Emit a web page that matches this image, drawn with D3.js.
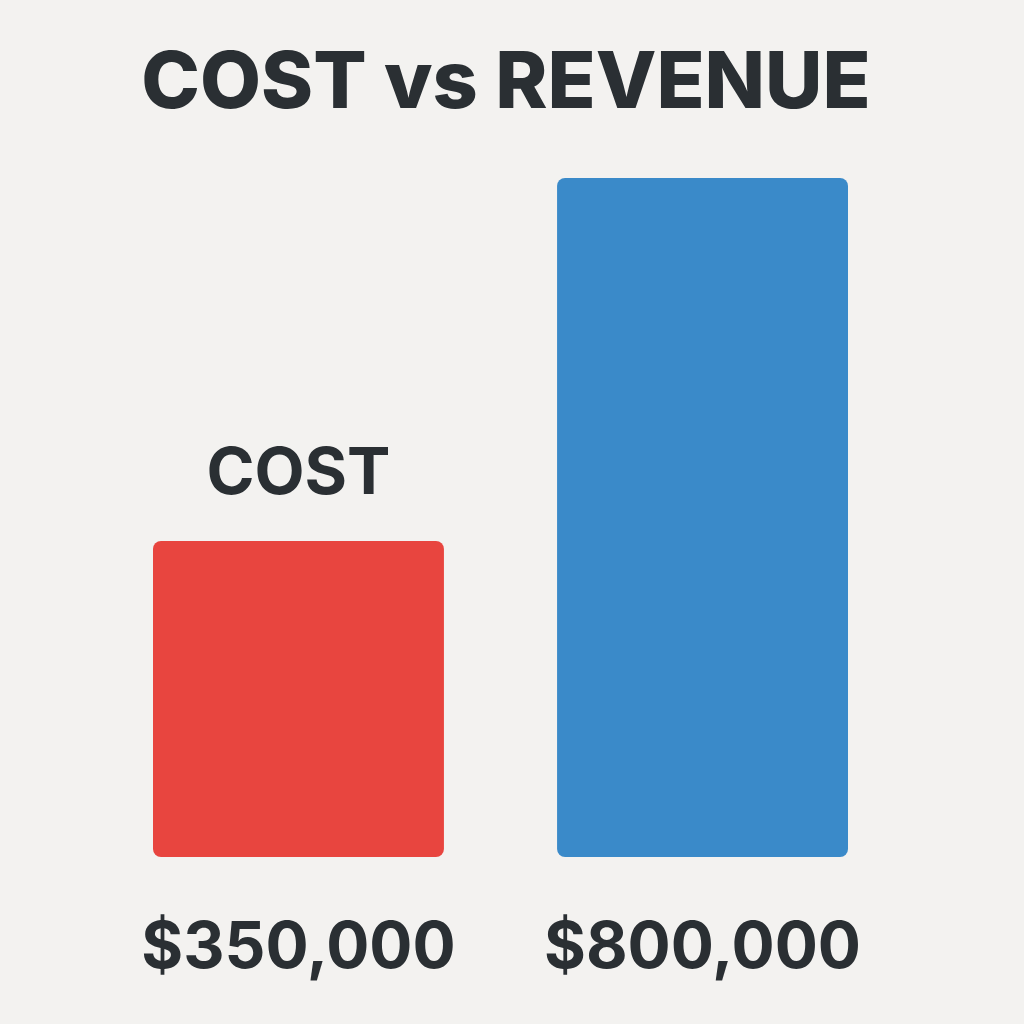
<!DOCTYPE html>
<html>
<head>
<meta charset="utf-8">
<script src="https://cdn.jsdelivr.net/npm/d3@7"></script>
<style>
	body { margin: 0; background: #f3f2f0; }
	svg { display: block; }
	text { font-family: Inter, "Open Sans", sans-serif; fill: #2a2f33; }
</style>
</head>
<body>
<div id="chart"></div>
<script>
// Data
var categories = ['COST', 'REVENUE']
var values = [350000, 800000]
var valueLabels = ['$350,000', '$800,000']
var barLabels = ['COST', '']
var colors = ['#e8453f', '#3a8ac9']

var width = 1024, height = 1024

var svg = d3.select('#chart').append('svg')
	.attr('width', width)
	.attr('height', height)

svg.append('rect')
	.attr('width', width).attr('height', height)
	.attr('fill', '#f3f2f0')

// Title
svg.append('text')
	.attr('x', 506)
	.attr('y', 108)
	.attr('text-anchor', 'middle')
	.style('font-size', '79px')
	.style('font-weight', 800)
	.text('COST vs REVENUE')

// Scales
var x = d3.scaleBand()
	.domain(categories)
	.range([153, 848])
	.paddingInner(0.28)
	.paddingOuter(0)

var y = d3.scaleLinear()
	.domain([-42000, 800000])
	.range([857, 178])

var data = categories.map(function(c, i){
	return {cat: c, value: values[i], label: valueLabels[i], top: barLabels[i], color: colors[i]}
})

// Bars
svg.selectAll('.bar')
	.data(data)
	.enter().append('rect')
	.attr('class', 'bar')
	.attr('x', function(d){ return x(d.cat) })
	.attr('y', function(d){ return y(d.value) })
	.attr('width', x.bandwidth())
	.attr('height', function(d){ return y.range()[0] - y(d.value) })
	.attr('rx', 8)
	.attr('fill', function(d){ return d.color })

// Label above bar
svg.selectAll('.top-label')
	.data(data.filter(function(d){ return d.top }))
	.enter().append('text')
	.attr('class', 'top-label')
	.attr('x', function(d){ return x(d.cat) + x.bandwidth() / 2 })
	.attr('y', function(d){ return y(d.value) - 47 })
	.attr('text-anchor', 'middle')
	.style('font-size', '65px')
	.style('font-weight', 700)
	.text(function(d){ return d.top })

// Value labels
svg.selectAll('.value-label')
	.data(data)
	.enter().append('text')
	.attr('class', 'value-label')
	.attr('x', function(d){ return x(d.cat) + x.bandwidth() / 2 })
	.attr('y', 968)
	.attr('text-anchor', 'middle')
	.style('font-size', '64px')
	.style('font-weight', 700)
	.text(function(d){ return d.label })
</script>
</body>
</html>
